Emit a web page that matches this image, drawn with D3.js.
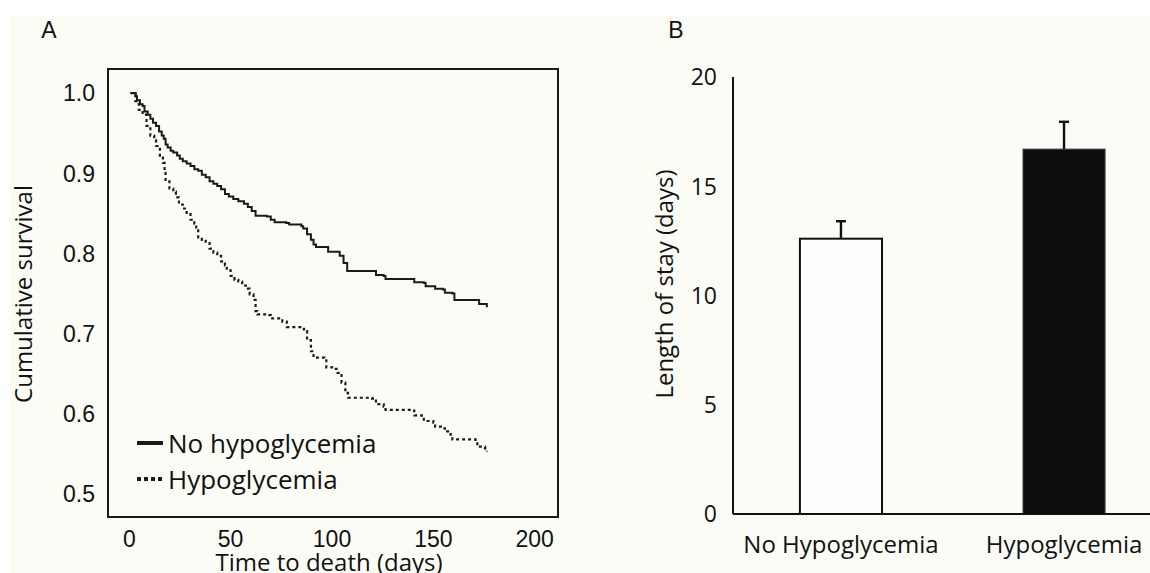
<!DOCTYPE html>
<meta charset="utf-8" />
<style>
  body { margin: 0; background: #fff; }
  .tickA { font-family: "Liberation Sans", Arial, sans-serif; font-size: 23px; fill: #111; }
  .titleA { font-family: "Open Sans", sans-serif; font-size: 24px; fill: #111; }
  .legend { font-family: "Open Sans", sans-serif; font-size: 26px; fill: #111; }
  .tickB { font-family: "Open Sans", sans-serif; font-size: 23px; fill: #111; }
  .labelB { font-family: "Open Sans", sans-serif; font-size: 24px; fill: #111; }
  .panel { font-family: "Liberation Sans", Arial, sans-serif; font-size: 23px; fill: #111; }
</style>
<body>
  <script src="https://cdnjs.cloudflare.com/ajax/libs/d3/7.8.5/d3.min.js"></script>
  <script>
    // panel A: Kaplan-Meier curves (day, cumulative survival)
    var noHypoDays = [0.6, 3.2, 3.8, 5.3, 6.6, 7.5, 9.1, 10.4, 11.7, 13.2, 14.7, 16.0, 17.0, 17.9, 18.9,
      20.4, 21.7, 23.6, 24.9, 26.4, 28.3, 30.2, 32.1, 34.0, 35.8, 37.7, 39.6, 41.5, 43.4, 45.3, 47.2,
      49.1, 51.3, 53.8, 56.6, 58.5, 60.4, 62.3, 67.9, 69.8, 71.7, 77.4, 78.9, 84.9, 85.8, 87.7, 89.6,
      90.9, 92.1, 97.2, 98.1, 102.8, 103.8, 105.7, 107.5, 119.8, 121.7, 125.5, 126.4, 139.6, 140.6,
      145.3, 146.2, 150.0, 150.9, 154.7, 155.7, 159.4, 160.4, 171.7, 172.6, 175.5, 176.4];
    var noHypoSurv = [1.0, 0.996, 0.991, 0.986, 0.984, 0.977, 0.973, 0.968, 0.963, 0.959, 0.952, 0.947,
      0.943, 0.936, 0.932, 0.928, 0.926, 0.922, 0.918, 0.915, 0.912, 0.909, 0.905, 0.903, 0.898, 0.895,
      0.890, 0.887, 0.884, 0.880, 0.874, 0.871, 0.868, 0.865, 0.862, 0.858, 0.853, 0.847, 0.846, 0.842,
      0.839, 0.838, 0.836, 0.834, 0.831, 0.824, 0.817, 0.811, 0.808, 0.808, 0.802, 0.802, 0.797, 0.788,
      0.778, 0.778, 0.773, 0.772, 0.768, 0.768, 0.764, 0.763, 0.759, 0.759, 0.756, 0.755, 0.751, 0.750,
      0.742, 0.742, 0.737, 0.737, 0.733];

    var hypoDays = [0.6, 3.0, 4.7, 6.6, 8.5, 10.4, 12.3, 13.2, 15.1, 16.6, 17.4, 17.9, 19.8, 21.7, 23.0,
      24.5, 26.4, 28.3, 30.2, 32.1, 33.0, 34.0, 35.8, 37.7, 39.6, 41.5, 43.4, 45.3, 47.2, 48.1, 50.0,
      51.9, 53.8, 55.7, 57.5, 59.4, 61.3, 62.3, 63.2, 67.9, 69.8, 75.5, 77.7, 84.9, 86.2, 87.7, 89.6,
      90.9, 96.2, 97.2, 101.9, 102.8, 104.7, 106.6, 107.9, 119.8, 121.7, 125.5, 126.4, 139.6, 140.6,
      144.3, 145.3, 150.0, 150.9, 154.7, 155.7, 158.5, 159.4, 170.8, 171.7, 175.5, 176.4];
    var hypoSurv = [1.0, 0.99, 0.979, 0.973, 0.959, 0.947, 0.941, 0.934, 0.922, 0.913, 0.902, 0.890,
      0.881, 0.877, 0.870, 0.861, 0.856, 0.849, 0.842, 0.837, 0.831, 0.820, 0.817, 0.813, 0.806, 0.801,
      0.797, 0.790, 0.785, 0.779, 0.772, 0.767, 0.765, 0.760, 0.756, 0.749, 0.742, 0.728, 0.724, 0.723,
      0.719, 0.715, 0.708, 0.706, 0.703, 0.692, 0.678, 0.670, 0.669, 0.658, 0.656, 0.651, 0.639, 0.626,
      0.620, 0.619, 0.612, 0.609, 0.605, 0.604, 0.598, 0.596, 0.591, 0.589, 0.584, 0.582, 0.578, 0.574,
      0.568, 0.566, 0.559, 0.557, 0.553];

    var xTicksA = [0, 50, 100, 150, 200];
    var yTicksA = [0.5, 0.6, 0.7, 0.8, 0.9, 1.0];
    var legendNames = ["No hypoglycemia", "Hypoglycemia"];

    // panel B: length of stay, mean and upper error
    var groups = ["No Hypoglycemia", "Hypoglycemia"];
    var stayMean = [12.6, 16.7];
    var stayErr = [0.8, 1.25];
    var yTicksB = [0, 5, 10, 15, 20];

    var width = 1150, height = 573;
    var svg = d3.select("body").append("svg")
      .attr("width", width).attr("height", height);

    // off-white paper
    svg.append("rect").attr("x", 10).attr("y", 15)
      .attr("width", width - 10).attr("height", height - 15)
      .attr("fill", "#fcfcf7");

    // ---------- panel A ----------
    var x = d3.scaleLinear().domain([-10.5, 211.5]).range([108, 558]);
    var y = d3.scaleLinear().domain([0.4713, 1.030]).range([517, 69]);

    svg.append("text").attr("class", "panel").attr("x", 49).attr("y", 38)
      .attr("text-anchor", "middle").text("A");

    svg.append("rect")
      .attr("x", x.range()[0]).attr("y", y.range()[1])
      .attr("width", x.range()[1] - x.range()[0])
      .attr("height", y.range()[0] - y.range()[1])
      .attr("fill", "none").attr("stroke", "#1a1a1a").attr("stroke-width", 2);

    svg.selectAll(".ytA").data(yTicksA).enter().append("text")
      .attr("class", "tickA").attr("x", 95).attr("y", d => y(d))
      .attr("dy", "0.36em").attr("text-anchor", "end")
      .text(d => d3.format(".1f")(d));

    svg.selectAll(".xtA").data(xTicksA).enter().append("text")
      .attr("class", "tickA").attr("x", d => x(d)).attr("y", 547)
      .attr("text-anchor", "middle").text(d => d);

    svg.append("text").attr("class", "titleA")
      .attr("x", 329).attr("y", 571).attr("text-anchor", "middle")
      .text("Time to death (days)");

    svg.append("text").attr("class", "titleA")
      .attr("transform", "translate(32,294) rotate(-90)")
      .attr("text-anchor", "middle").text("Cumulative survival");

    var line = d3.line().x(d => x(d[0])).y(d => y(d[1])).curve(d3.curveStepAfter);

    svg.append("path")
      .datum(d3.zip(hypoDays, hypoSurv))
      .attr("d", line).attr("fill", "none")
      .attr("stroke", "#1a1a1a").attr("stroke-width", 2.2)
      .attr("stroke-dasharray", "3,3");

    svg.append("path")
      .datum(d3.zip(noHypoDays, noHypoSurv))
      .attr("d", line).attr("fill", "none")
      .attr("stroke", "#1a1a1a").attr("stroke-width", 2);

    var leg = svg.selectAll(".leg").data(legendNames).enter().append("g")
      .attr("transform", (d, i) => "translate(137," + (443 + 36 * i) + ")");
    leg.append("line").attr("x1", 0).attr("x2", 26).attr("y1", 0).attr("y2", 0)
      .attr("stroke", "#1a1a1a").attr("stroke-width", 4)
      .attr("stroke-dasharray", (d, i) => i ? "4,3" : null);
    leg.append("text").attr("class", "legend").attr("x", 31).attr("y", 10)
      .text(d => d);

    // ---------- panel B ----------
    var xb = d3.scaleBand().domain(groups).range([733, 1172])
      .paddingInner(0.632).paddingOuter(0.3);
    var yb = d3.scaleLinear().domain([0, 20]).range([514, 77]);

    svg.append("text").attr("class", "panel").attr("x", 676).attr("y", 38)
      .attr("text-anchor", "middle").text("B");

    svg.selectAll(".bar").data(groups).enter().append("rect")
      .attr("x", d => xb(d)).attr("width", xb.bandwidth())
      .attr("y", (d, i) => yb(stayMean[i]))
      .attr("height", (d, i) => yb(0) - yb(stayMean[i]))
      .attr("fill", (d, i) => i ? "#0d0d0d" : "#fefefe")
      .attr("stroke", (d, i) => i ? "#444" : "#111")
      .attr("stroke-width", (d, i) => i ? 1 : 2);

    var err = svg.selectAll(".err").data(groups).enter().append("g")
      .attr("stroke", "#111").attr("stroke-width", 2.4);
    err.append("line")
      .attr("x1", d => xb(d) + xb.bandwidth() / 2).attr("x2", d => xb(d) + xb.bandwidth() / 2)
      .attr("y1", (d, i) => yb(stayMean[i])).attr("y2", (d, i) => yb(stayMean[i] + stayErr[i]));
    err.append("line")
      .attr("x1", d => xb(d) + xb.bandwidth() / 2 - 5).attr("x2", d => xb(d) + xb.bandwidth() / 2 + 5)
      .attr("y1", (d, i) => yb(stayMean[i] + stayErr[i])).attr("y2", (d, i) => yb(stayMean[i] + stayErr[i]));

    // axes
    svg.append("line").attr("x1", 733).attr("x2", 733)
      .attr("y1", yb(20)).attr("y2", yb(0))
      .attr("stroke", "#111").attr("stroke-width", 2);
    svg.append("line").attr("x1", 733).attr("x2", width)
      .attr("y1", yb(0)).attr("y2", yb(0))
      .attr("stroke", "#111").attr("stroke-width", 2);

    svg.selectAll(".ytB").data(yTicksB).enter().append("text")
      .attr("class", "tickB").attr("x", 717).attr("y", d => yb(d))
      .attr("dy", "0.36em").attr("text-anchor", "end").text(d => d);

    svg.selectAll(".xtB").data(groups).enter().append("text")
      .attr("class", "labelB").attr("x", d => xb(d) + xb.bandwidth() / 2).attr("y", 553)
      .attr("text-anchor", "middle").text(d => d);

    svg.append("text").attr("class", "labelB")
      .attr("transform", "translate(673,284) rotate(-90)")
      .attr("text-anchor", "middle").text("Length of stay (days)");
  </script>
</body>
